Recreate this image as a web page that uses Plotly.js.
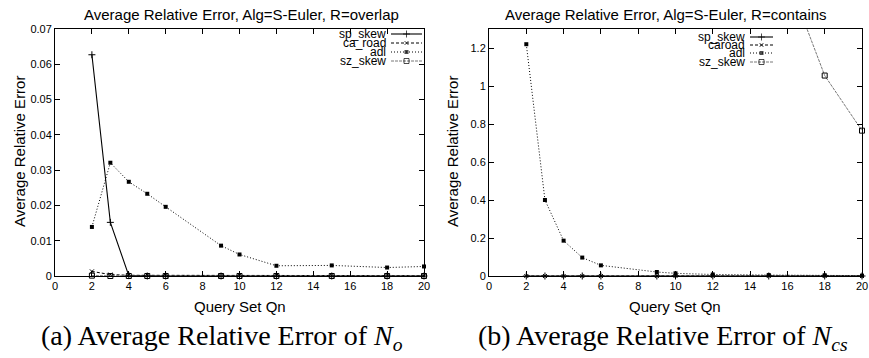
<!DOCTYPE html>
<html><head><meta charset="utf-8">
<script src="https://cdn.plot.ly/plotly-3.0.1.min.js"></script>
<style>html,body{margin:0;padding:0;background:#fff}#c{width:869px;height:358px}</style>
</head><body><div id="c"></div>
<script>
// Query set sizes
const qn = [2, 3, 4, 5, 6, 9, 10, 12, 15, 18, 20];
// (a) overlap
const spSkewO = [0.0627, 0.0152, 0.0001, 0, 0, 0, 0, 0, 0, 0, 0];
const caRoadO = [0.0013, 0.0004, 0.0002, 0.0002, 0.0001, 0.0001, 0.0001, 0.0001, 0.0001, 0.0001, 0.0001];
const adlO    = [0.0139, 0.0321, 0.0267, 0.0233, 0.0196, 0.0086, 0.0061, 0.0029, 0.0030, 0.0024, 0.0027];
const szSkewO = [0.0001, 0, 0, 0, 0, 0, 0, 0, 0, 0, 0];
// (b) contains
const spSkewC = [0, 0, 0, 0, 0, 0, 0, 0, 0, 0, 0];
const caRoadC = [0, 0, 0, 0, 0, 0, 0, 0, 0, 0, 0];
const adlC    = [1.22, 0.40, 0.186, 0.097, 0.056, 0.021, 0.014, 0.008, 0.005, 0.004, 0.002];
const szSkewC = [null, null, null, null, null, null, null, null, 1.83, 1.055, 0.765];

const namesO = ['sp_skew', 'ca_road', 'adl', 'sz_skew'];
const namesC = ['sp_skew', 'caroad', 'adl', 'sz_skew'];

const W = 869, H = 358;
const styles = [
  {line:{color:'#000', width:1.1}, marker:{symbol:'cross-thin-open', size:5, color:'#000', line:{width:1, color:'#000'}}},
  {line:{color:'#000', width:1, dash:'3px,2px'}, marker:{symbol:'x-thin-open', size:4, color:'#000', line:{width:1, color:'#000'}}},
  {line:{color:'#000', width:1, dash:'1px,2px'}, marker:{symbol:'square', size:4, color:'#000', line:{width:0}}},
  {line:{color:'#555', width:0.8, dash:'3px,1px'}, marker:{symbol:'square-open', size:5, color:'#000', line:{width:1, color:'#000'}}}
];

function series(ys, i, xa, ya) {
  return {x: qn, y: ys, xaxis: xa, yaxis: ya, type: 'scatter', mode: 'lines+markers',
    line: styles[i].line, marker: styles[i].marker, cliponaxis: false, showlegend: false,
    connectgaps: false, hoverinfo: 'skip'};
}
const traces = [];
[spSkewO, caRoadO, adlO, szSkewO].forEach((ys, i) => traces.push(series(ys, i, 'x', 'y')));
[spSkewC, caRoadC, adlC, szSkewC].forEach((ys, i) => traces.push(series(ys, i, 'x2', 'y2')));

// legend keys in a pixel-space overlay axis
const annotations = [];
function legend(names, textRight, x0, x1, rows) {
  names.forEach((n, i) => {
    const xm = (x0 + x1) / 2;
    traces.push({x: [x0, xm, x1], y: [rows[i], rows[i], rows[i]], xaxis: 'x3', yaxis: 'y3',
      type: 'scatter', mode: 'lines+markers', line: styles[i].line,
      marker: Object.assign({}, styles[i].marker, {size: [0, styles[i].marker.size, 0]}),
      showlegend: false, hoverinfo: 'skip', cliponaxis: false});
    annotations.push({xref: 'paper', yref: 'paper', x: textRight / W, y: 1 - rows[i] / H,
      xanchor: 'right', yanchor: 'middle', text: n, showarrow: false,
      font: {family: 'Liberation Sans, Arial, sans-serif', size: 12, color: '#000'}});
  });
}
legend(namesO, 388, 391, 422, [34, 43, 52, 61]);
legend(namesC, 747, 750, 773, [37, 45, 53, 62]);

function ann(text, xpx, ypx, size, opts) {
  annotations.push(Object.assign({xref: 'paper', yref: 'paper', x: xpx / W, y: 1 - ypx / H,
    xanchor: 'center', yanchor: 'middle', text: text, showarrow: false,
    font: {family: 'Liberation Sans, Arial, sans-serif', size: size, color: '#000'}}, opts || {}));
}
ann('Average Relative Error, Alg=S-Euler, R=overlap', 241, 14, 15);
ann('Average Relative Error, Alg=S-Euler, R=contains', 666, 14, 15);
ann('Query Set Qn', 240, 306, 15);
ann('Query Set Qn', 675, 306, 15);
ann('Average Relative Error', 19, 152, 15, {textangle: -90});
ann('Average Relative Error', 452, 152, 15, {textangle: -90});
const capFont = {family: 'Liberation Serif, Times New Roman, serif', size: 28, color: '#000'};
ann('(a) Average Relative Error of <i>N<sub>o</sub></i>', 222, 337, 28, {font: capFont});
ann('(b) Average Relative Error of <i>N<sub>cs</sub></i>', 663, 337, 28, {font: capFont});

const tickFont = {family: 'Liberation Sans, Arial, sans-serif', size: 11, color: '#000'};
const xBase = {range: [0, 20], dtick: 2, tick0: 0, ticks: 'inside', ticklen: 5, tickwidth: 1,
  tickcolor: '#000', showline: true, linecolor: '#000', linewidth: 1, mirror: 'allticks',
  showgrid: false, zeroline: false, tickfont: tickFont, fixedrange: true};
const yDom = [82 / H, 329 / H];

const layout = {
  width: W, height: H, margin: {l: 0, r: 0, t: 0, b: 0},
  paper_bgcolor: '#fff', plot_bgcolor: 'rgba(0,0,0,0)', showlegend: false,
  xaxis: Object.assign({}, xBase, {domain: [55 / W, 424 / W], anchor: 'y'}),
  yaxis: Object.assign({}, xBase, {range: [0, 0.07], dtick: 0.01, domain: yDom, anchor: 'x'}),
  xaxis2: Object.assign({}, xBase, {domain: [489 / W, 862 / W], anchor: 'y2'}),
  yaxis2: Object.assign({}, xBase, {range: [0, 1.3], dtick: 0.2, domain: yDom, anchor: 'x2'}),
  xaxis3: {domain: [0, 1], range: [0, W], visible: false, anchor: 'y3', fixedrange: true},
  yaxis3: {domain: [0, 1], range: [H, 0], visible: false, anchor: 'x3', fixedrange: true},
  annotations: annotations
};
Plotly.newPlot('c', traces, layout, {staticPlot: true, displayModeBar: false});
</script></body></html>
